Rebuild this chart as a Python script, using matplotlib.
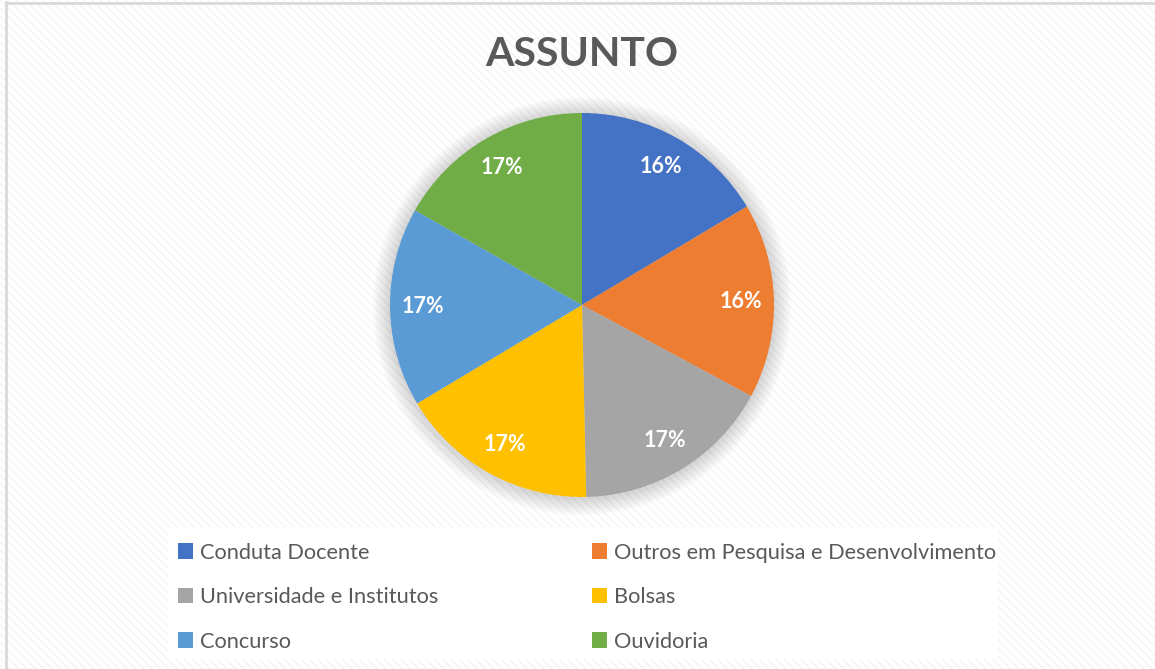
import numpy as np
import matplotlib.pyplot as plt
from matplotlib.patches import Rectangle, Circle

plt.rcParams['font.family'] = ['Lato', 'DejaVu Sans']
plt.rcParams['hatch.linewidth'] = 1.0

categories = ['Conduta Docente', 'Outros em Pesquisa e Desenvolvimento',
              'Universidade e Institutos', 'Bolsas', 'Concurso', 'Ouvidoria']
values = [47, 47, 48, 48, 48, 48]
colors = ['#4472C4', '#ED7D31', '#A5A5A5', '#FFC000', '#5B9BD5', '#70AD47']

fig = plt.figure(figsize=(11.55, 6.69), dpi=100)
W, H = 1155, 669

# hatched background
bg = Rectangle((0, 0), 1, 1, transform=fig.transFigure, facecolor='white',
               edgecolor='#f4f4f4', hatch='\\\\\\\\', linewidth=0, zorder=-10)
fig.patches.append(bg)
# border
fig.add_artist(plt.Line2D([6 / W, 6 / W], [0, 1 - 2 / H], color='#d9d9d9', lw=2))
fig.add_artist(plt.Line2D([6 / W, 1], [1 - 3 / H, 1 - 3 / H], color='#d9d9d9', lw=2))

# legend white area
fig.patches.append(Rectangle((168 / W, 1 - 659 / H), (998 - 168) / W, (659 - 527) / H,
                             transform=fig.transFigure, facecolor='white',
                             edgecolor='none', zorder=-5))

fig.text(582 / W, 1 - 54 / H, 'ASSUNTO', ha='center', va='center',
         fontsize=29.5, fontweight='bold', color='#595959')

cx, cy, r = 582, 305, 192
ax = fig.add_axes([(cx - r) / W, 1 - (cy + r) / H, 2 * r / W, 2 * r / H])
ax.axis('off')

# soft shadow
for i in range(8):
    ax.add_patch(Circle((0, -0.005), 1 + 0.011 * (i + 1), color='#000000',
                        alpha=0.018, lw=0, zorder=0, clip_on=False))

wedges, texts, autotexts = ax.pie(values, colors=colors, startangle=90,
                                  counterclock=False, radius=1,
                                  autopct='%1.0f%%', pctdistance=0.83,
                                  wedgeprops=dict(linewidth=0, zorder=2),
                                  textprops=dict(color='white', fontsize=15.5,
                                                 fontweight='bold'))
for t in autotexts:
    t.set_zorder(3)
ax.set_xlim(-1, 1)
ax.set_ylim(-1, 1)

common = dict(frameon=False, fontsize=15.7, handlelength=0.7, handleheight=0.7,
              handletextpad=0.3, labelspacing=1.12, borderaxespad=0,
              labelcolor='#595959')
leg1 = fig.legend([wedges[i] for i in (0, 2, 4)], [categories[i] for i in (0, 2, 4)],
                  loc='upper left', bbox_to_anchor=(169 / W, 1 - 534 / H), **common)
leg2 = fig.legend([wedges[i] for i in (1, 3, 5)], [categories[i] for i in (1, 3, 5)],
                  loc='upper left', bbox_to_anchor=(583 / W, 1 - 534 / H), **common)

fig.savefig('out.png', dpi=100)
